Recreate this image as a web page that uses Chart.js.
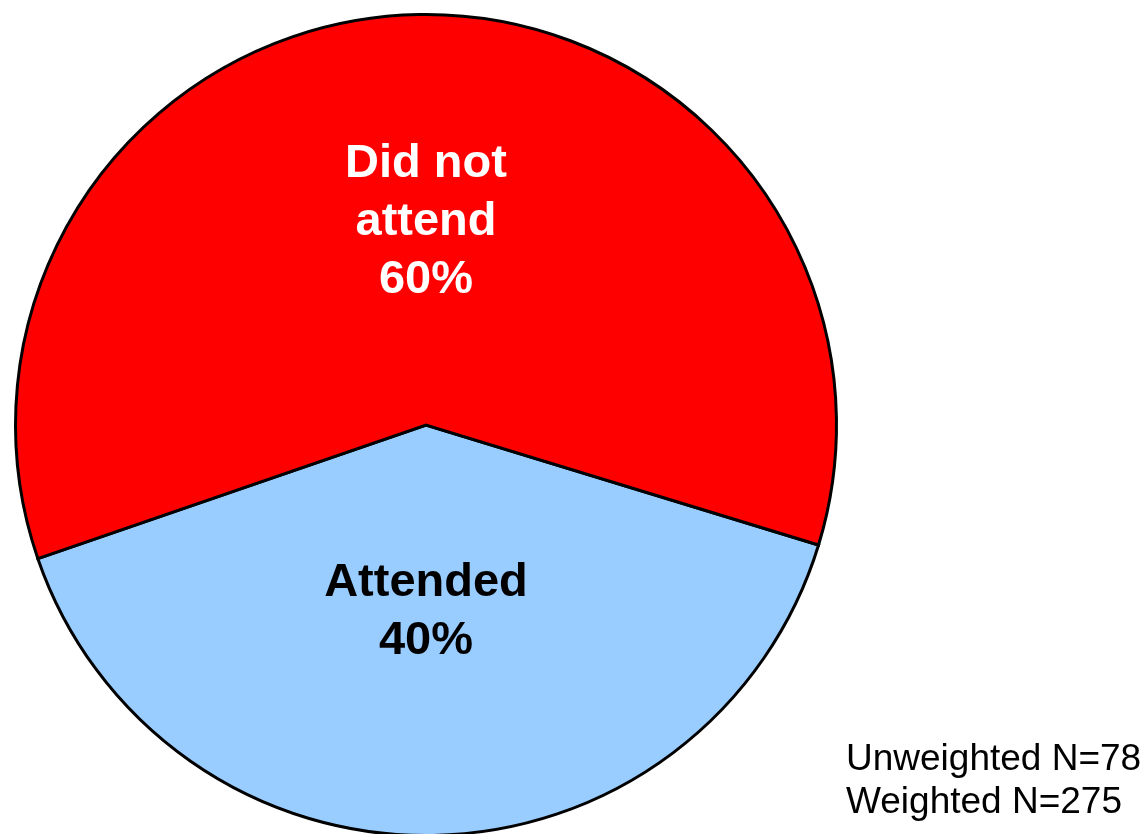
<!DOCTYPE html>
<html>
<head>
<meta charset="utf-8">
<script src="https://cdn.jsdelivr.net/npm/chart.js@4.4.1/dist/chart.umd.min.js"></script>
<style>
  html, body { margin: 0; padding: 0; background: #fff; overflow: hidden; }
  #wrap { position: relative; width: 1146px; height: 834px; overflow: hidden; }
  canvas { display: block; }
</style>
</head>
<body>
<div id="wrap"><canvas id="myChart" width="1146" height="850"></canvas></div>
<script>
// data
var categories = ['Attended', 'Did not attend'];
var shares = [40, 60];
var sliceLabels = [['Attended', '40%'], ['Did not', 'attend', '60%']];
var sliceColors = ['#99CCFF', '#FF0000'];
var labelColors = ['#000000', '#FFFFFF'];
var labelDist = [0.45, 0.5];   // fraction of radius from centre to label block middle
var notes = ['Unweighted N=78', 'Weighted N=275'];

// labels inside the slices
var sliceText = {
  id: 'sliceText',
  afterDatasetsDraw: function(chart) {
    var ctx = chart.ctx;
    var meta = chart.getDatasetMeta(0);
    ctx.save();
    ctx.font = 'bold 47px "Liberation Sans", Arial, sans-serif';
    ctx.textAlign = 'center';
    ctx.textBaseline = 'middle';
    meta.data.forEach(function(arc, i) {
      var p = arc.getProps(['x', 'y', 'startAngle', 'endAngle', 'outerRadius'], true);
      var mid = (p.startAngle + p.endAngle) / 2;
      var cy = p.y + Math.sin(mid) * p.outerRadius * labelDist[i];
      var lines = sliceLabels[i];
      var lh = 58;
      var top = cy - (lines.length - 1) * lh / 2;
      ctx.fillStyle = labelColors[i];
      lines.forEach(function(t, k) {
        ctx.fillText(t, p.x, top + k * lh + 2);
      });
    });
    ctx.restore();
  }
};

// sample size notes, bottom right
var noteText = {
  id: 'noteText',
  afterDraw: function(chart) {
    var ctx = chart.ctx;
    ctx.save();
    ctx.font = '37px "Liberation Sans", Arial, sans-serif';
    ctx.fillStyle = '#000';
    ctx.textAlign = 'left';
    ctx.textBaseline = 'alphabetic';
    notes.forEach(function(t, k) {
      ctx.fillText(t, 846, 770 + k * 43);
    });
    ctx.restore();
  }
};

var ctx = document.getElementById('myChart').getContext('2d');
var chart = new Chart(ctx, {
  type: 'pie',
  data: {
    labels: categories,
    datasets: [{
      data: shares,
      backgroundColor: sliceColors,
      borderColor: '#000000',
      borderWidth: 3,
      borderJoinStyle: 'miter'
    }]
  },
  options: {
    responsive: false,
    animation: false,
    rotation: 107,
    layout: { padding: { left: 14, top: 13, right: 308, bottom: 13 } },
    plugins: {
      legend: { display: false },
      tooltip: { enabled: false }
    }
  },
  plugins: [sliceText, noteText]
});
</script>
</body>
</html>
